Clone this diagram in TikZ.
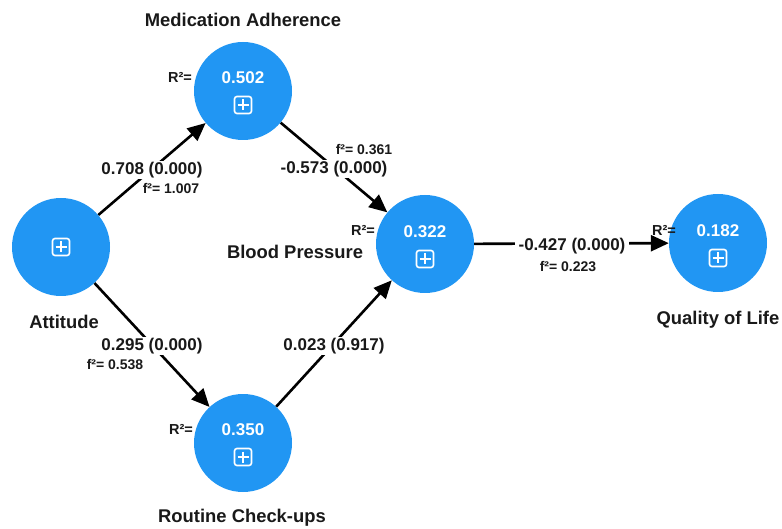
\documentclass[tikz,border=0pt]{standalone}
\usepackage{fontspec}
\setmainfont{Liberation Sans}
\usetikzlibrary{arrows.meta}
\definecolor{nodeblue}{RGB}{33,150,243}
\definecolor{ink}{RGB}{25,25,25}
\begin{document}
\begin{tikzpicture}[x=1pt,y=-1pt,
  lv/.style={circle, fill=nodeblue, minimum size=98pt, inner sep=0pt},
  vname/.style={font=\fontsize{18.4}{21}\selectfont\bfseries, text=ink, inner sep=0pt},
  coef/.style={font=\fontsize{17}{20}\selectfont\bfseries, text=ink, fill=white, inner xsep=4pt, inner ysep=1pt},
  fsq/.style={font=\fontsize{14}{16}\selectfont\bfseries, text=ink, inner sep=1pt},
  rsq/.style={font=\fontsize{14.5}{16}\selectfont\bfseries, text=ink, inner sep=0pt},
  val/.style={font=\fontsize{17}{20}\selectfont\bfseries, text=white, inner sep=0pt},
  arr/.style={-{Triangle[length=18pt,width=16pt]}, line width=2.6pt, draw=black},
  plusicon/.pic={
    \draw[white, line width=1.6pt, rounded corners=2.5pt] (-8.5,-8.5) rectangle (8.5,8.5);
    \draw[white, line width=1.6pt] (-5.5,0) -- (5.5,0) (0,-5.5) -- (0,5.5);}
]
\useasboundingbox (0,0) rectangle (782,529);

% latent variables
\node[lv] (med) at (243,91) {};
\node[lv] (att) at (61,247) {};
\node[lv] (bp)  at (425,244) {};
\node[lv] (qol) at (718,243) {};
\node[lv] (rc)  at (243,443) {};

% values and icons
\node[val] (vmed) at (243,78) {0.502};
\pic at (243,105) {plusicon};
\pic at (61,247) {plusicon};
\node[val] (vbp) at (425,232) {0.322};
\pic at (425,259) {plusicon};
\node[val] (vqol) at (718,231) {0.182};
\pic at (718,258) {plusicon};
\node[val] (vrc) at (243,430) {0.350};
\pic at (243,457) {plusicon};

% R2 labels
\node[rsq] (rmed) at (180,77) {R²=};
\node[rsq] (rbp)  at (363,230) {R²=};
\node[rsq] (rqol) at (664,230) {R²=};
\node[rsq] (rrc)  at (181,429) {R²=};

% names
\node[vname] (nmed) at (243,20) {Medication Adherence};
\node[vname] (natt) at (64,322) {Attitude};
\node[vname] (nbp)  at (295,252) {Blood Pressure};
\node[vname] (nqol) at (718,320) {Quality of Life};
\node[vname] (nrc)  at (242,518) {Routine Check-ups};

% paths
\draw[arr] (att) -- (med);
\draw[arr] (att) -- (rc);
\draw[arr] (med) -- (bp);
\draw[arr] (rc) -- (bp);
\draw[arr] (bp) -- (qol);

% path coefficients
\node[coef] (e1) at (152,170) {0.708 (0.000)};
\node[fsq]  (f1) at (171,188) {f²= 1.007};
\node[coef] (e2) at (334,169) {-0.573 (0.000)};
\node[fsq]  (f2) at (364,150) {f²= 0.361};
\node[coef] (e3) at (152,346) {0.295 (0.000)};
\node[fsq]  (f3) at (115,365) {f²= 0.538};
\node[coef] (e4) at (334,346) {0.023 (0.917)};
\node[coef] (e5) at (572,246) {-0.427 (0.000)};
\node[fsq]  (f5) at (568,267) {f²= 0.223};
\end{tikzpicture}
\end{document}
